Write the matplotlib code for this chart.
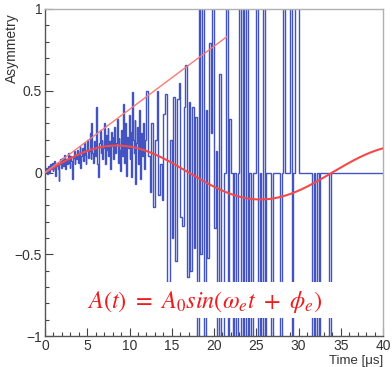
import numpy as np
import matplotlib
matplotlib.use("Agg")
import matplotlib.pyplot as plt
from matplotlib.patches import Rectangle
from matplotlib.ticker import MultipleLocator

plt.rcParams['font.family'] = ['Liberation Sans', 'DejaVu Sans']
plt.rcParams['mathtext.fontset'] = 'stix'

# ---- data ----
fine_width = 0.1     # bins for 0-12 us
coarse_width = 0.2   # bins for 12-40 us
asym_0_3 = [0.01, 0.03, -0.01, 0.02, 0.04, 0.00, 0.05, 0.02, 0.06, 0.01,
            0.03, 0.07, -0.02, 0.04, 0.06, 0.02, -0.05, 0.05, 0.08, 0.03,
            0.09, 0.04, 0.07, 0.11, 0.02, 0.08, 0.05, 0.12, 0.06, 0.03]
asym_3_6 = [0.10, 0.07, -0.04, 0.09, 0.13, 0.05, 0.11, 0.08, 0.14, 0.06,
            0.12, 0.16, 0.03, 0.10, 0.15, 0.07, 0.18, 0.11, 0.05, 0.14,
            0.20, 0.09, 0.13, 0.24, 0.08, 0.30, 0.12, 0.06, 0.19, 0.10]
asym_6_9 = [0.40, 0.22, 0.05, -0.03, 0.18, 0.26, 0.12, 0.20, 0.08, 0.15,
            0.30, 0.05, 0.23, 0.14, 0.27, 0.10, 0.19, 0.02, 0.25, 0.16,
            0.22, 0.08, 0.28, 0.12, 0.18, 0.33, 0.06, 0.21, 0.14, 0.01]
asym_9_12 = [0.26, 0.10, 0.42, 0.18, 0.06, 0.30, -0.02, 0.22, 0.15, 0.35,
             0.08, 0.25, -0.03, 0.49, 0.20, 0.12, 0.32, -0.07, 0.18, 0.28,
             0.05, 0.38, 0.14, -0.04, 0.24, 0.10, 0.30, 0.02, 0.20, 0.45]
asym_12_18 = [0.50, 0.10, -0.12, 0.30, -0.21, 0.20, 0.50, -0.14, 0.05, -0.17,
              0.36, 0.48, -0.72, -0.67, 0.20, -0.40, 0.46, -0.54, 0.45, 0.55,
              -0.27, -0.33, 0.40, 0.66, -0.64, 0.43, -0.60, 0.40, -0.46, 0.34]
asym_18_24 = [-2, 2, -0.50, 2, -2, 0.38, -0.52, 0.79, 0.24, 2,
              -0.34, 0.13, -2, 0.60, -2, -2, 0, 2, -2, 0.33,
              0, -2, 0, -2, 0, 2, -2, 2, -2, 2]
asym_24_30 = [-2, 0, -2, 0, 0, 2, -2, 0, -2, 2,
              -2, 0, 0, 0, -2, 0, 0, 0, 0, -2,
              0, 2, 0, 0, 0, 2, -2, 0, 2, 2]
asym_30_34 = [0, 0, 0, 0, 0, 0, 0, 0, -2, 0,
              -2, 0, -2, 0, 0, 0, 0, 0, -2, 0]
asym_34_40 = [0] * 30

fine_vals = asym_0_3 + asym_3_6 + asym_6_9 + asym_9_12
coarse_vals = asym_12_18 + asym_18_24 + asym_24_30 + asym_30_34 + asym_34_40
values = np.array(fine_vals + coarse_vals, dtype=float)
fine_edges = np.arange(len(fine_vals)) * fine_width
coarse_start = len(fine_vals) * fine_width
coarse_edges = coarse_start + np.arange(len(coarse_vals) + 1) * coarse_width
edges = np.concatenate([fine_edges, coarse_edges])

# fit parameters
A0 = 0.165
period = 34.0
phi_e = 0.0
env_slope = 0.0386
env_end = 21.5

fig = plt.figure(figsize=(3.92, 3.67), dpi=100)
ax = fig.add_axes([45/392, 31/367, 338/392, 327/367])

ax.stairs(values, edges, baseline=None, color='#4353c2', lw=1.0, zorder=2)

t = np.linspace(0, 40, 600)
ax.plot(t, A0*np.sin(2*np.pi/period*t + phi_e), color='#f24a4a', lw=1.5, zorder=4)
te = np.linspace(0, env_end, 50)
ax.plot(te, env_slope*te, color='#f77a7a', lw=1.0, zorder=4)

ax.add_patch(Rectangle((3.5, -0.89), 33.0, 0.22, facecolor='white',
                       edgecolor='none', zorder=5))
ax.text(18.9, -0.79, r'$A(t)\ =\ A_0 sin(\omega_e t\ +\ \phi_e)$', color='#ee1c1c',
        fontsize=17.5, ha='center', va='center', zorder=6)

ax.set_xlim(0, 40)
ax.set_ylim(-1, 1)
ax.xaxis.set_major_locator(MultipleLocator(5))
ax.xaxis.set_minor_locator(MultipleLocator(1))
ax.yaxis.set_minor_locator(MultipleLocator(0.1))
ax.set_yticks([-1, -0.5, 0, 0.5, 1])
ax.set_yticklabels(['\u22121', '\u22120.5', '0', '0.5', '1'])
ax.tick_params(which='both', direction='in', colors='#444444', labelcolor='#333333',
               labelsize=10)
ax.tick_params(which='major', length=6, width=0.8, pad=2.5)
ax.tick_params(which='minor', length=3, width=0.8)
ax.tick_params(axis='y', which='major', pad=2)

for s in ['left', 'bottom']:
    ax.spines[s].set_color('#555555')
    ax.spines[s].set_linewidth(1.0)
for s in ['top', 'right']:
    ax.spines[s].set_color('#b0b0b0')
    ax.spines[s].set_linewidth(1.0)

fig.text(12/392, 1 - 13/367, 'Asymmetry', rotation=90, ha='center', va='top',
         fontsize=10, color='#333333')
fig.text(383/392, 1 - 361/367, 'Time [\u03bcs]', ha='right', va='center',
         fontsize=9.5, color='#333333')

fig.savefig('out.png', dpi=100)
